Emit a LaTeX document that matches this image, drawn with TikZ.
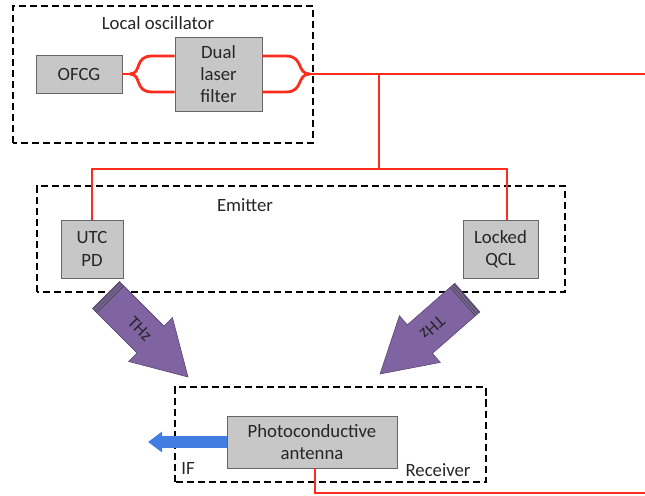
\documentclass[tikz,border=0pt]{standalone}
\usepackage{fontspec}
\setmainfont{Carlito}
\usetikzlibrary{positioning,calc}
\usetikzlibrary{arrows.meta}
\definecolor{fibrered}{RGB}{250,45,30}
\definecolor{boxgray}{RGB}{199,199,199}
\definecolor{thzpurple}{RGB}{128,100,162}
\definecolor{ifblue}{RGB}{66,125,226}
\tikzset{
  block/.style={draw=black!60, fill=boxgray, line width=0.8pt, align=center,
    inner sep=0pt, font=\fontsize{16}{19}\selectfont, text=black!85},
  dashbox/.style={draw=black, line width=1.6pt, dash pattern=on 6pt off 3.4pt},
  boxtitle/.style={font=\fontsize{16}{19}\selectfont, text=black!85, inner sep=0pt},
  fibre/.style={draw=fibrered, line width=2.4pt},
  thzbody/.style={fill=thzpurple, draw=thzpurple!70!black, line width=0.5pt},
  thztext/.style={font=\fontsize{15}{17}\selectfont, text=black!85, inner sep=0pt},
  ifarrow/.style={draw=ifblue, line width=9.4pt, -{Triangle[width=17pt,length=12pt]}},
}

\begin{document}
\begin{tikzpicture}[x=0.03cm, y=0.03cm]
  \useasboundingbox (0,0) rectangle (645,495);

  % Dashed frames and their titles
  \draw[dashbox] (13,352) rectangle (313,489);
  \draw[dashbox] (37,203) rectangle (565,309);
  \draw[dashbox] (175,13) rectangle (486,108);
  \node[boxtitle] (lotitle) at (158,472) {Local oscillator};
  \node[boxtitle] (emtitle) at (245,290) {Emitter};
  \node[boxtitle] (rxtitle) at (438,25) {Receiver};
  \node[boxtitle] (iftitle) at (188,27) {IF};

  % Blocks
  \node[block, minimum width=2.58cm, minimum height=1.14cm] (ofcg) at (79,421) {OFCG};
  \node[block, minimum width=2.61cm, minimum height=2.22cm] (dlf) at (218.5,421) {Dual\\laser\\filter};
  \node[block, minimum width=1.86cm, minimum height=1.74cm] (utc) at (92,246) {UTC\\PD};
  \node[block, minimum width=2.25cm, minimum height=1.74cm] (qcl) at (500.5,246) {Locked\\QCL};
  \node[block, minimum width=5.1cm, minimum height=1.56cm] (pca) at (312,53) {Photoconductive\\antenna};

  % Fibre couplers
  \coordinate (split1) at (130,421);
  \coordinate (join1) at (310,421);
  \draw[fibre] (ofcg.east) -- (split1);
  \draw[fibre] (split1) .. controls (142,421) and (134,439) .. (152,439) -- ([yshift=0.54cm]dlf.west);
  \draw[fibre] (split1) .. controls (142,421) and (134,403) .. (152,403) -- ([yshift=-0.54cm]dlf.west);
  \draw[fibre] ([yshift=0.54cm]dlf.east) -- (286,439) .. controls (304,439) and (296,421) .. (join1);
  \draw[fibre] ([yshift=-0.54cm]dlf.east) -- (286,403) .. controls (304,403) and (296,421) .. (join1);

  % Fibre network
  \coordinate (out1) at (645,421);
  \coordinate (tap) at (379,421);
  \coordinate (tee) at (379,326);
  \coordinate (qtap) at (507,326);
  \coordinate (out2) at (645,2);
  \draw[fibre] (join1) -- (out1);
  \draw[fibre] (tap) -- (tee);
  \draw[fibre] (utc.north) |- (qtap) -- (qtap |- qcl.north);
  \draw[fibre] ([xshift=0.09cm]pca.south) |- (out2);

  % THz beams
  \begin{scope}[shift={(188,118)}, rotate=-45]
    \filldraw[thzbody] (0,0) -- (-53,31) -- (-53,19) -- (-116,19) -- (-116,-19) -- (-53,-19) -- (-53,-31) -- cycle;
    \foreach \s in {-115,-112.5,-110} {
      \draw[black!70, line width=0.7pt] (\s,-19) -- (\s,19);
    }
    \node[thztext, rotate=-45] (thzleft) at (-68,0) {THz};
  \end{scope}
  \begin{scope}[shift={(380,121)}, rotate=-138.8]
    \filldraw[thzbody] (0,0) -- (-53,31) -- (-53,19) -- (-116,19) -- (-116,-19) -- (-53,-19) -- (-53,-31) -- cycle;
    \foreach \s in {-115,-112.5,-110} {
      \draw[black!70, line width=0.7pt] (\s,-19) -- (\s,19);
    }
    \node[thztext, rotate=-138.8] (thzright) at (-70,0) {THz};
  \end{scope}

  % IF output
  \coordinate (iftip) at (148,53);
  \draw[ifarrow] (pca.west) -- (iftip);
\end{tikzpicture}
\end{document}
